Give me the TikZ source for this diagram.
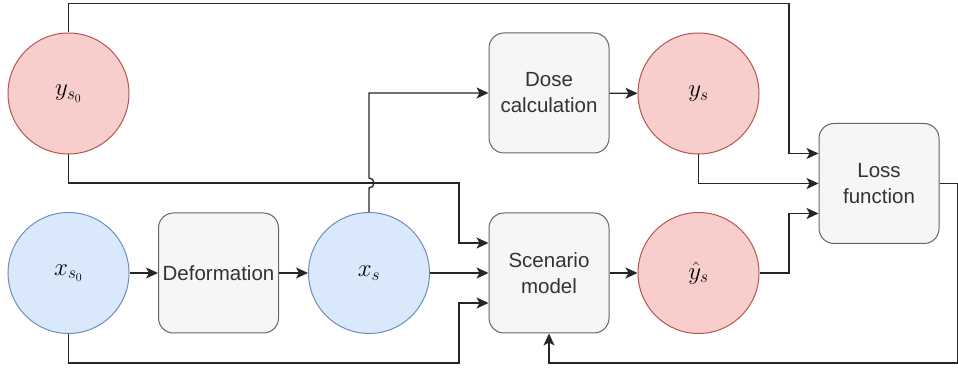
\documentclass[tikz,border=0pt]{standalone}
\usepackage[no-math]{fontspec}
\setmainfont{Liberation Sans}
\usetikzlibrary{arrows.meta,positioning}

\definecolor{redfill}{HTML}{F8CECC}
\definecolor{redline}{HTML}{B85450}
\definecolor{bluefill}{HTML}{DAE8FC}
\definecolor{blueline}{HTML}{6C8EBF}
\definecolor{boxfill}{HTML}{F5F6F5}
\definecolor{boxline}{HTML}{666666}
\definecolor{wirecol}{HTML}{262626}

\tikzset{
    redvar/.style={circle, draw=redline, fill=redfill, line width=1pt,
        minimum size=121pt, inner sep=0pt, font=\fontsize{26}{30}\selectfont},
    bluevar/.style={circle, draw=blueline, fill=bluefill, line width=1pt,
        minimum size=121pt, inner sep=0pt, font=\fontsize{26}{30}\selectfont},
    block/.style={rectangle, rounded corners=15pt, draw=boxline, fill=boxfill,
        line width=1pt, minimum width=120pt, minimum height=120pt, align=center,
        text=black!80, font=\fontsize{20.5}{26}\selectfont},
    wire/.style={draw=wirecol, line width=1.3pt,
        -{Stealth[length=12pt,width=11pt,inset=3pt]}},
}

\begin{document}
\begin{tikzpicture}[x=1pt, y=1pt]
    \useasboundingbox (0, 0) rectangle (958, 369);
    % top row
    \node [redvar] (ys0) at (68.5, 275.5) {$y_{s_0}$};
    \node [block] (dose) at (549, 276) {Dose\\calculation};
    \node [redvar] (ys) at (698.5, 275.5) {$y_s$};
    % bottom row
    \node [bluevar] (xs0) at (68.5, 96) {$x_{s_0}$};
    \node [block] (deform) at (218.5, 96) {Deformation};
    \node [bluevar] (xs) at (369, 96) {$x_s$};
    \node [block] (scen) at (549, 96) {Scenario\\model};
    \node [redvar] (yhat) at (698.5, 96) {$\hat{y}_s$};
    % loss
    \node [block] (loss) at (879, 185.5) {Loss\\function};

    % straight links
    \draw [wire] (xs0) -- (deform);
    \draw [wire] (deform) -- (xs);
    \draw [wire] (xs) -- (scen);
    \draw [wire] (dose) -- (ys);
    \draw [wire] (scen) -- (yhat);
    % routed links
    \draw [wire] (ys0.south) |- (459, 186) |- ([yshift=30pt]scen.west);
    \draw [wire] (xs.north) -- (369, 181) arc [start angle=-90, end angle=90, radius=5pt] |- (dose.west);
    \draw [wire] (ys0.north) |- (789, 365.5) |- ([yshift=30pt]loss.west);
    \draw [wire] (xs0.south) |- (459, 6) |- ([yshift=-30pt]scen.west);
    \draw [wire] (ys.south) |- (loss.west);
    \draw [wire] (yhat.east) -- (789, 96) |- ([yshift=-30pt]loss.west);
    \draw [wire] (loss.east) -| (957.3, 6) -| (scen.south);
\end{tikzpicture}
\end{document}
